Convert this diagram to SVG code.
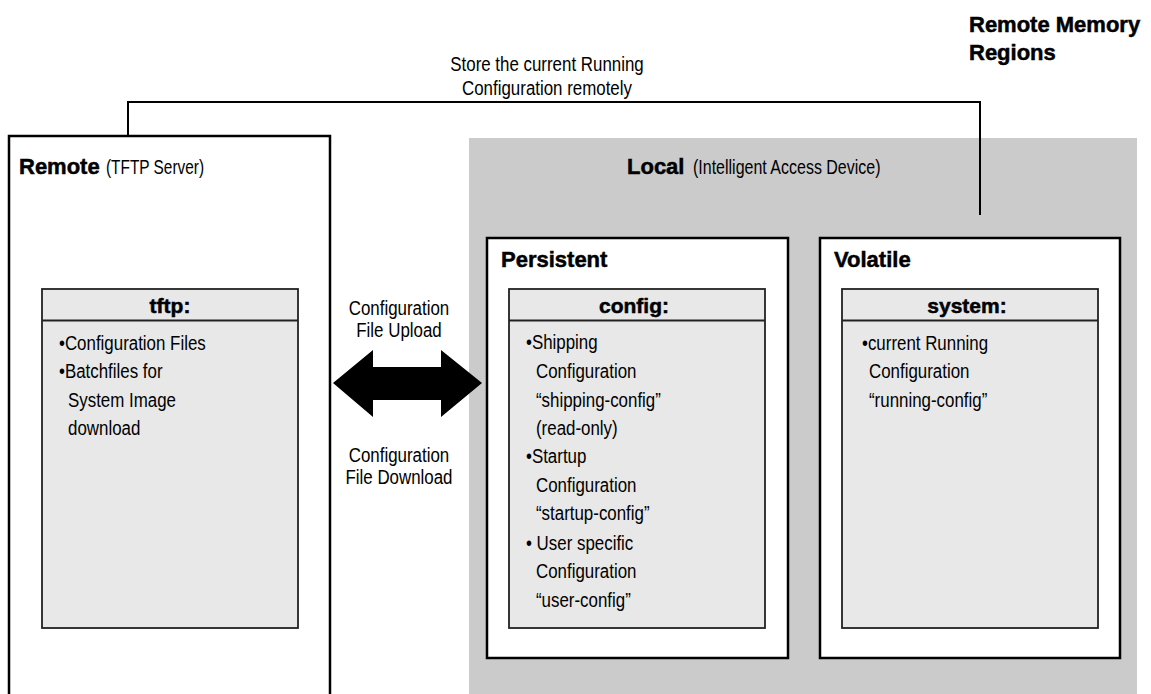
<svg xmlns="http://www.w3.org/2000/svg" width="1151" height="694" viewBox="0 0 1151 694">
<style>
.b{font-family:"Liberation Sans",Arial,sans-serif;font-weight:bold;font-size:22px;fill:#000;stroke:#000;stroke-width:0.5}
.h{font-family:"Liberation Sans",Arial,sans-serif;font-weight:bold;font-size:21px;fill:#000;stroke:#000;stroke-width:0.5;text-anchor:middle}
.t{font-family:"Liberation Sans",Arial,sans-serif;font-size:21px;fill:#000}
.m{text-anchor:middle}
.frame{fill:#fff;stroke:#000;stroke-width:2.5}
.store{fill:#e8e8e8;stroke:#222;stroke-width:1.8}
.line{fill:none;stroke:#000;stroke-width:2}
</style>
<rect width="1151" height="694" fill="#fff"/>

<g id="title">
<text class="b" x="969" y="32">Remote Memory</text>
<text class="b" x="969" y="60">Regions</text>
</g>

<g id="local">
<rect x="469" y="138" width="668" height="560" fill="#cbcbcb"/>
<text class="b" x="627" y="174">Local</text>
<text class="t" transform="translate(693 174) scale(0.762 1)">(Intelligent Access Device)</text>
</g>

<g id="remote">
<path class="frame" d="M9,700 V136 H330 V700"/>
<text class="b" x="19" y="174">Remote</text>
<text class="t" transform="translate(106 174) scale(0.733 1)">(TFTP Server)</text>
</g>

<g id="tftp">
<rect class="store" x="42" y="289" width="256" height="339"/>
<line class="store" x1="42" y1="320.5" x2="298" y2="320.5"/>
<text class="h" x="170" y="313">tftp:</text>
<text class="t" transform="translate(59 350) scale(0.805 1)">•Configuration Files</text>
<text class="t" transform="translate(59 378) scale(0.805 1)">•Batchfiles for</text>
<text class="t" transform="translate(68 407) scale(0.805 1)">System Image</text>
<text class="t" transform="translate(68 435) scale(0.805 1)">download</text>
</g>

<g id="persistent">
<rect class="frame" x="487" y="238" width="301" height="420" stroke-width="2"/>
<text class="b" x="501" y="267">Persistent</text>
</g>

<g id="config">
<rect class="store" x="509" y="289" width="256" height="339"/>
<line class="store" x1="509" y1="320.5" x2="765" y2="320.5"/>
<text class="h" x="634" y="313">config:</text>
<text class="t" transform="translate(526 349) scale(0.805 1)">•Shipping</text>
<text class="t" transform="translate(536 378) scale(0.805 1)">Configuration</text>
<text class="t" transform="translate(536 407) scale(0.805 1)">“shipping-config”</text>
<text class="t" transform="translate(536 435) scale(0.805 1)">(read-only)</text>
<text class="t" transform="translate(526 463) scale(0.805 1)">•Startup</text>
<text class="t" transform="translate(536 492) scale(0.805 1)">Configuration</text>
<text class="t" transform="translate(536 520) scale(0.805 1)">“startup-config”</text>
<text class="t" transform="translate(526 550) scale(0.805 1)">• User specific</text>
<text class="t" transform="translate(536 578) scale(0.805 1)">Configuration</text>
<text class="t" transform="translate(536 607) scale(0.805 1)">“user-config”</text>
</g>

<g id="volatile">
<rect class="frame" x="820" y="238" width="300" height="420" stroke-width="2"/>
<text class="b" x="834" y="267">Volatile</text>
</g>

<g id="system">
<rect class="store" x="842" y="289" width="256" height="339"/>
<line class="store" x1="842" y1="320.5" x2="1098" y2="320.5"/>
<text class="h" x="967" y="313">system:</text>
<text class="t" transform="translate(862 350) scale(0.805 1)">•current Running</text>
<text class="t" transform="translate(869 378) scale(0.805 1)">Configuration</text>
<text class="t" transform="translate(869 407) scale(0.805 1)">“running-config”</text>
</g>

<g id="connectors">
<path class="line" d="M128,136 V102 H980 V215"/>
<text class="t m" transform="translate(547 71) scale(0.805 1)">Store the current Running</text>
<text class="t m" transform="translate(547 95) scale(0.805 1)">Configuration remotely</text>
<polygon points="333,383 373,350 373,367 441,367 441,350 482,383 441,417 441,400 373,400 373,417" fill="#000"/>
<text class="t m" transform="translate(399 315) scale(0.805 1)">Configuration</text>
<text class="t m" transform="translate(399 337) scale(0.805 1)">File Upload</text>
<text class="t m" transform="translate(399 462) scale(0.805 1)">Configuration</text>
<text class="t m" transform="translate(399 484) scale(0.805 1)">File Download</text>
</g>
</svg>
